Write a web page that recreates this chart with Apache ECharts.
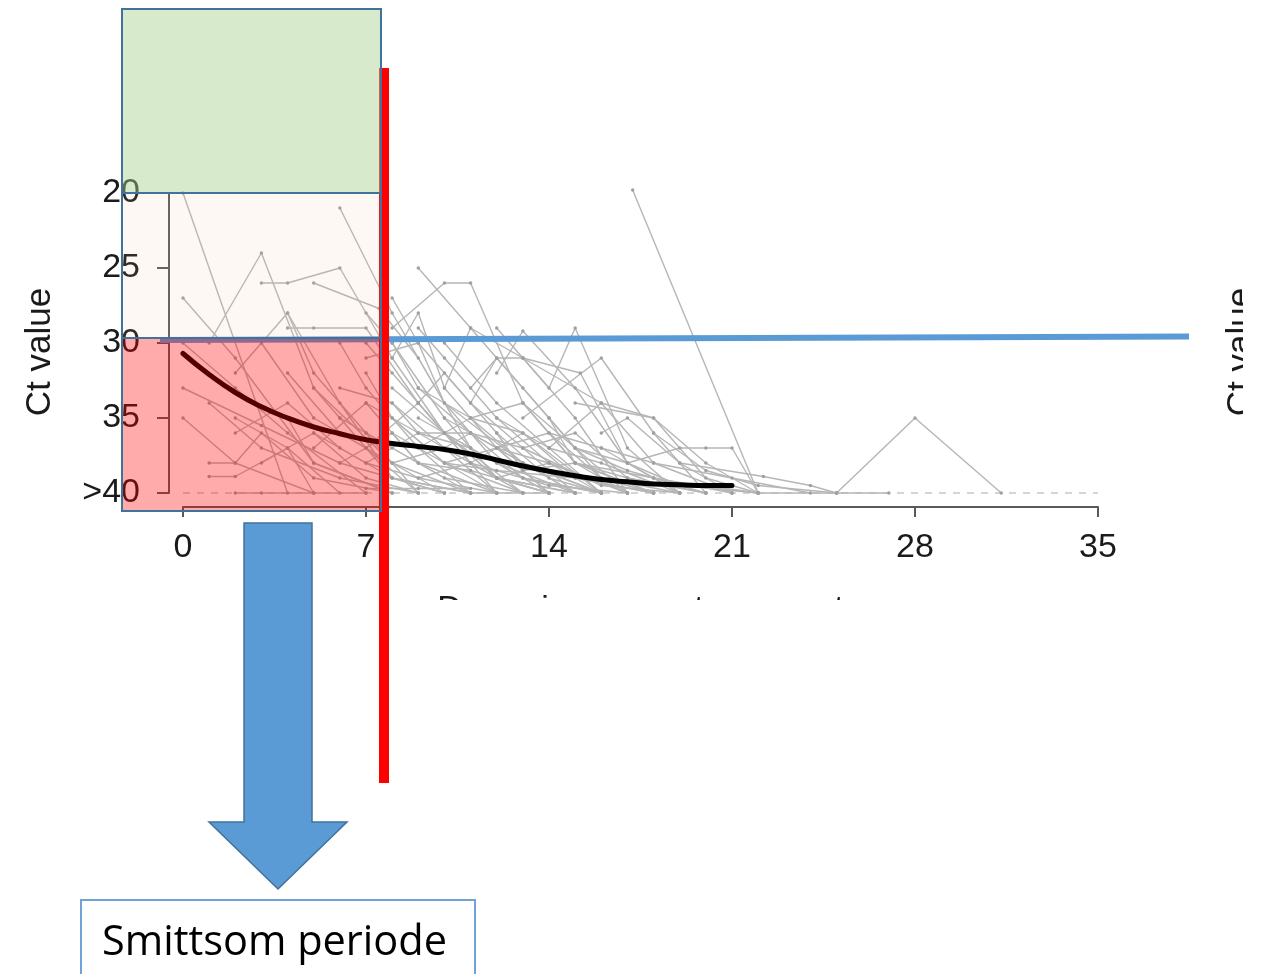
<!DOCTYPE html>
<html>
<head>
<meta charset="utf-8">
<script src="https://cdn.jsdelivr.net/npm/echarts@6/dist/echarts.min.js"></script>
<style>
  html, body { margin: 0; padding: 0; background: #ffffff; }
  #chart { width: 1261px; height: 974px; }
</style>
</head>
<body>
<div id="chart"></div>
<script>
// ---- data ----
const xTicks = [0, 7, 14, 21, 28, 35];
const yTicks = [20, 25, 30, 35, 40];
const yTickLabels = ['20', '25', '30', '35', '>40'];
const xAxisTitle = 'Days since symptom onset';
const yAxisTitle = 'Ct value';
const boxText = 'Smittsom periode';

// individual patient trajectories: [day, Ct]
const trajectories = [
  [[0,20],[4,40]],
  [[0,27],[2,31],[5,38],[8,40]],
  [[0,33],[3,35.5],[6,38],[10,40]],
  [[1,30],[3,24],[5,33],[8,38],[11,40]],
  [[3,26],[4,26],[6,25],[8,31],[10,36],[13,40]],
  [[5,26],[7.5,27.7],[9,31],[11,37],[14,40]],
  [[6,21],[8,28],[10,34],[12,38],[14,40]],
  [[4,28],[5,32],[7,36],[9,40]],
  [[2,32],[4,28],[6,34],[8,39],[10,40]],
  [[4,29],[5,29],[7,29],[9,34],[12,40]],
  [[9,25],[11,29],[13,31],[15.2,32],[17,38],[19,40]],
  [[8,29],[10,26],[11,26],[13,34],[15,38],[17,40]],
  [[8,31],[9,28],[10,33],[12,37],[14,40]],
  [[12,29],[14,33],[15,29],[17,37],[19,40]],
  [[11,34],[12,31],[13,31],[15,35],[17,40]],
  [[13,35],[16,31],[18,36],[20,40]],
  [[14,37],[16,34],[18,38],[21,40]],
  [[15,34],[18,35],[20,38],[22,40]],
  [[17.2,19.8],[22,40]],
  [[17,38],[19,37],[20,37],[21,37],[22,40]],
  [[19,38],[22.2,38.9],[24,39.5],[25,40]],
  [[25,40],[28,35],[31.3,40]],
  [[20,39.5],[22,40],[25,40],[27,40]],
  [[11,36],[13,38],[16,40]],
  [[0,35],[2,38],[5,40]],
  [[1,38],[2,38],[3,36],[5,39],[8,40]],
  [[1,38.9],[2,38.9],[4,37],[6,40]],
  [[2,35],[4,37],[5,40],[7,40]],
  [[2,40],[3,40],[5,40]],
  [[3,38],[5,36],[7,39],[9,40]],
  [[3,30],[5,35],[7,37],[9,40]],
  [[4,32],[6,36],[8,38],[10,40]],
  [[5,33],[6,35],[8,39],[11,40]],
  [[5,37],[7,34],[9,38],[12,40]],
  [[6,30],[7,33],[9,37],[11,40]],
  [[6,35],[8,37],[10,39],[13,40]],
  [[7,32],[8,35],[10,38],[12,40]],
  [[7,36],[9,38],[11,40],[14,40]],
  [[7,30],[8,32],[9,34],[11,38],[13,40]],
  [[8,33],[10,36],[12,39],[15,40]],
  [[8,36],[9,38],[11,38.5],[14,40]],
  [[9,34],[10,32],[12,36],[14,39],[16,40]],
  [[9,37],[11,35],[13,38],[15,40]],
  [[10,35],[12,37],[14,38],[17,40]],
  [[10,30],[12,34],[14,37],[16,40]],
  [[11,33],[12,31],[14,35],[16,39],[18,40]],
  [[11,38],[13,36],[15,39],[18,40]],
  [[12,35],[14,37],[16,38],[19,40]],
  [[13,37],[15,36],[17,39],[20,40]],
  [[14,36],[16,37],[18,39],[21,40]],
  [[15,37],[17,38],[19,39.5],[22,40]],
  [[16,37],[18,38],[21,39],[24,40]],
  [[0,30],[2,33],[4,36],[7,40]],
  [[1,34],[3,37],[6,39],[9,40]],
  [[2,36],[4,34],[6,37],[8,39],[11,40]],
  [[4,35],[5,38],[8,40]],
  [[5,36],[7,38],[9,39],[12,40]],
  [[6,38],[8,36],[10,38],[13,40]],
  [[7,38],[9,36],[11,37],[13,39],[16,40]],
  [[8,38],[10,37],[12,39],[15,40]],
  [[9,39],[11,38],[14,39.5],[17,40]],
  [[10,38],[12,38.5],[15,39],[18,40]],
  [[9,29],[10,31],[12,35],[14,38],[16,40]],
  [[8,27],[9,30],[11,34],[13,37],[15,40]],
  [[10,33],[11,29],[13,33],[15,37],[17,40]],
  [[12,32],[13,29.2],[15,33],[17,38],[19,40]],
  [[7,39.7],[9,39.7],[11,39.7]],
  [[13,31],[16,34],[18,35],[20,39],[22,40]],
  [[18,36],[20,38.5],[22,39.5],[25,40]],
  [[15,38],[18,39],[20,39.6],[22,40]],
  [[7,34],[9,36],[11,38],[13,40]],
  [[8,35],[10,38],[12,37],[14,40]],
  [[9,33],[11,36],[13,39],[16,40]],
  [[10,36],[12,39],[14,38],[17,40]],
  [[11,35],[13,34],[15,38],[18,40]],
  [[12,37],[14,36],[16,39],[19,40]],
  [[13,34],[15,37],[17,38.5],[20,40]],
  [[14,35],[15,38],[17,39],[20,40]],
  [[6,33],[8,34],[10,37],[12,40]],
  [[7,37],[9,34],[10,36],[12,38],[15,40]],
  [[8,34],[9,36],[11,36],[13,38],[16,40]],
  [[9,35],[11,37],[12,39],[14,40]],
  [[10,37],[11,36],[13,37],[16,39.5],[19,40]],
  [[16,36],[17,35],[19,38],[21,40]],
  [[12,36],[13,38.5],[15,38],[18,40]],
  [[7,28],[8,30],[10,35],[12,39],[14,40]],
  [[7,31],[9,30],[10,34],[13,38],[15,40]],
  [[8,30],[9,33],[11,35],[13,36],[16,40]]
];

// smoothed population curve
const smoothDays = [0,1,2,3,4,5,6,7,8,9,10,11,12,13,14,15,16,17,18,19,20,21];
const smoothCt   = [30.7,32.1,33.3,34.25,35.0,35.6,36.05,36.45,36.7,36.9,37.1,37.4,37.8,38.2,38.55,38.85,39.1,39.25,39.4,39.45,39.5,39.5];

// limit of detection line
const lodDays = [0, 35];
const lodCt = [40, 40];

// ---- chart ----
const chart = echarts.init(document.getElementById('chart'), null, { renderer: 'canvas' });

const series = [];
series.push({
  type: 'line',
  data: lodDays.map((d, i) => [d, lodCt[i]]),
  symbol: 'none',
  clip: false,
  silent: true,
  z: 1,
  lineStyle: { color: '#c8c8c8', width: 1.5, type: [7, 7] }
});
trajectories.forEach((tr) => {
  series.push({
    type: 'line',
    data: tr,
    symbol: 'circle',
    symbolSize: 3.5,
    showSymbol: true,
    clip: false,
    silent: true,
    z: 2,
    itemStyle: { color: '#a0a0a0' },
    lineStyle: { color: '#b6b6b6', width: 1.4 }
  });
});
series.push({
  type: 'line',
  data: smoothDays.map((d, i) => [d, smoothCt[i]]),
  symbol: 'none',
  smooth: true,
  clip: false,
  silent: true,
  z: 5,
  lineStyle: { color: '#000000', width: 5, cap: 'round' }
});

const axisColor = '#5a5a5a';
const font = '"Liberation Sans", Arial, Helvetica, sans-serif';

chart.setOption({
  animation: false,
  backgroundColor: '#ffffff',
  grid: { left: 183, right: 163, top: 193, bottom: 481, containLabel: false },
  xAxis: {
    type: 'value',
    min: xTicks[0],
    max: xTicks[xTicks.length - 1],
    interval: 7,
    offset: 14,
    name: xAxisTitle,
    nameLocation: 'middle',
    nameGap: 86,
    nameTextStyle: { fontSize: 34, fontFamily: font, color: '#1a1a1a' },
    axisLine: { show: true, onZero: false, lineStyle: { color: axisColor, width: 2 } },
    axisTick: { show: true, length: 10, lineStyle: { color: axisColor, width: 2 } },
    axisLabel: { fontSize: 34, fontFamily: font, color: '#1a1a1a', margin: 24 },
    splitLine: { show: false }
  },
  yAxis: {
    type: 'value',
    inverse: true,
    min: yTicks[0],
    max: yTicks[yTicks.length - 1],
    interval: 5,
    offset: 14,
    axisLine: { show: true, onZero: false, lineStyle: { color: axisColor, width: 2 } },
    axisTick: { show: true, length: 12, lineStyle: { color: axisColor, width: 2 } },
    axisLabel: {
      fontSize: 34, fontFamily: font, color: '#1a1a1a', margin: 29,
      formatter: (v) => { const i = yTicks.indexOf(v); return i >= 0 ? yTickLabels[i] : ''; }
    },
    splitLine: { show: false }
  },
  series: series
});

// ---- overlay annotations (drawn on top of the plot) ----
const blue = '#5b9bd5';
const blueBorder = '#41719c';
chart.setOption({
  graphic: { elements: [
    // left y axis title
    { type: 'text', x: 40, y: 352, rotation: Math.PI / 2, z: 40,
      style: { text: yAxisTitle, font: '35px ' + font, fill: '#1a1a1a', align: 'center', verticalAlign: 'middle' } },
    // clipped duplicate title at right edge
    { type: 'text', x: 1241, y: 352, rotation: Math.PI / 2, z: 40,
      style: { text: yAxisTitle, font: '35px ' + font, fill: '#1a1a1a', align: 'center', verticalAlign: 'middle' } },
    { type: 'rect', z: 45, shape: { x: 1243, y: 250, width: 30, height: 200 }, style: { fill: '#ffffff' } },
    // crop of the x title
    { type: 'rect', z: 45, shape: { x: 400, y: 600, width: 520, height: 60 }, style: { fill: '#ffffff' } },
    // blue threshold line
    { type: 'polygon', z: 50, shape: { points: [[160, 337], [1189, 333.5], [1189, 339.5], [160, 343]] }, style: { fill: blue } },
    // red vertical line
    { type: 'rect', z: 60, shape: { x: 379, y: 68, width: 10, height: 715 }, style: { fill: '#ff0000' } },
    // coloured zones
    { type: 'rect', z: 70, shape: { x: 122, y: 9, width: 259, height: 184 },
      style: { fill: 'rgba(169,209,142,0.45)', stroke: blueBorder, lineWidth: 2 } },
    { type: 'rect', z: 70, shape: { x: 122, y: 193, width: 259, height: 145 },
      style: { fill: 'rgba(240,190,150,0.10)', stroke: blueBorder, lineWidth: 2 } },
    { type: 'rect', z: 70, shape: { x: 122, y: 338, width: 259, height: 173 },
      style: { fill: 'rgba(255,0,0,0.33)', stroke: blueBorder, lineWidth: 2 } },
    // arrow
    { type: 'polygon', z: 80, shape: { points: [[244, 523], [312, 523], [312, 822], [347, 822], [278, 889], [209, 822], [244, 822]] },
      style: { fill: blue, stroke: blueBorder, lineWidth: 1.5 } },
    // text box
    { type: 'rect', z: 80, shape: { x: 81, y: 900, width: 394, height: 90 },
      style: { fill: '#ffffff', stroke: '#6fa3d8', lineWidth: 2 } },
    { type: 'text', z: 81, x: 102, y: 943,
      style: { text: boxText, font: '41.5px "Open Sans", Lato, sans-serif', fill: '#000000', align: 'left', verticalAlign: 'middle' } }
  ] }
});
</script>
</body>
</html>
